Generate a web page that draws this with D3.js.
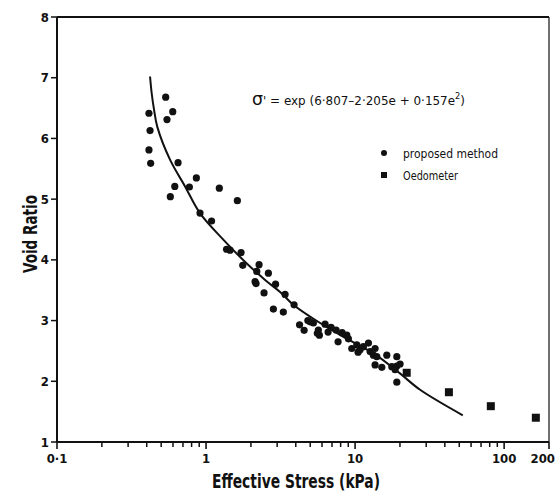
<!DOCTYPE html>
<html>
<head>
<meta charset="utf-8">
<script src="https://cdn.jsdelivr.net/npm/d3@7"></script>
<style>
  body { margin: 0; background: #fff; }
  svg text { font-family: "Liberation Sans Narrow", "DejaVu Sans Condensed", "Liberation Sans", sans-serif; fill: #111; }
  .tick-label { font-size: 13px; font-weight: bold; }
  .title { font-size: 20px; font-weight: bold; }
  .note { font-size: 13px; }
</style>
</head>
<body>
<script>
// proposed method (effective stress kPa, void ratio)
var propStress = [0.536, 0.414, 0.598, 0.547, 0.421, 0.414, 0.425, 0.649, 0.861, 0.617,
  0.773, 1.228, 0.576, 1.622, 0.911, 1.089, 1.373, 1.449, 1.718, 1.763,
  2.268, 2.19, 2.619, 2.133, 2.166, 2.927, 2.45, 3.39, 3.896, 2.83,
  3.30, 4.82, 4.24, 4.55, 5.25, 5.67, 5.76, 5.58, 6.29, 6.90,
  7.46, 7.69, 8.80, 9.02, 9.50, 10.27, 10.8, 11.37, 12.29, 12.61,
  13.62, 13.27, 13.99, 16.32, 19.05, 13.62, 15.11, 17.63, 19.05, 20.04,
  18.56, 19.05, 10.47, 8.18, 6.59, 4.99];
var propVoid = [6.68, 6.415, 6.44, 6.31, 6.13, 5.81, 5.59, 5.60, 5.35, 5.21,
  5.20, 5.18, 5.04, 4.975, 4.77, 4.64, 4.175, 4.16, 4.12, 3.91,
  3.92, 3.81, 3.78, 3.64, 3.61, 3.60, 3.455, 3.43, 3.26, 3.19,
  3.14, 3.00, 2.93, 2.84, 2.96, 2.845, 2.76, 2.79, 2.94, 2.89,
  2.845, 2.65, 2.76, 2.70, 2.54, 2.60, 2.52, 2.57, 2.63, 2.49,
  2.54, 2.43, 2.405, 2.43, 2.405, 2.27, 2.23, 2.24, 2.25, 2.285,
  2.19, 1.985, 2.48, 2.80, 2.81, 2.98];

// oedometer
var oedoStress = [22.2, 42.6, 81.4, 163.2];
var oedoVoid = [2.14, 1.82, 1.59, 1.40];

// fitted curve
var curveStress = [0.421, 0.432, 0.448, 0.471, 0.573, 0.723, 0.91, 1.31, 1.876, 2.49,
  3.14, 3.85, 5.1, 8.35, 13.3, 20.0, 27.3, 52.8];
var curveVoid = [7.02, 6.74, 6.47, 6.19, 5.65, 5.21, 4.77, 4.33, 3.94, 3.67,
  3.47, 3.26, 3.05, 2.73, 2.46, 2.13, 1.86, 1.44];

var xMajor = [0.1, 1, 10, 100, 200];
var xMajorLabels = ["0·1", "1", "10", "100", "200"];
var yTicks = [1, 2, 3, 4, 5, 6, 7, 8];

var width = 556, height = 492;

var x = d3.scaleLog().domain([0.1, 200]).range([57, 549]);
var y = d3.scaleLinear().domain([1, 8]).range([442, 17]);

var svg = d3.select("body").append("svg")
  .attr("width", width)
  .attr("height", height);

//frame top and right
svg.append("line")
  .attr("x1", x(0.1)).attr("x2", x(200))
  .attr("y1", y(8)).attr("y2", y(8))
  .attr("stroke", "#111").attr("stroke-width", 1.8);
svg.append("line")
  .attr("x1", x(200)).attr("x2", x(200))
  .attr("y1", y(8)).attr("y2", y(1))
  .attr("stroke", "#222").attr("stroke-width", 1.3);

//minor ticks on x
var xMinor = [];
[0.1, 1, 10].forEach(function(dec) {
  for (var k = 2; k <= 9; k++) xMinor.push(dec * k);
});

var xAxis = svg.append("g")
  .attr("transform", "translate(0," + y(1) + ")");
xAxis.append("line")
  .attr("x1", x(0.1)).attr("x2", x(200))
  .attr("stroke", "#111").attr("stroke-width", 1.8);
xAxis.selectAll(".minor")
  .data(xMinor)
  .enter().append("line")
  .attr("x1", function(d) { return x(d); })
  .attr("x2", function(d) { return x(d); })
  .attr("y1", 0).attr("y2", 5)
  .attr("stroke", "#111").attr("stroke-width", 1.5);
xAxis.selectAll(".major")
  .data(xMajor)
  .enter().append("line")
  .attr("x1", function(d) { return x(d); })
  .attr("x2", function(d) { return x(d); })
  .attr("y1", 0).attr("y2", 7)
  .attr("stroke", "#111").attr("stroke-width", 1.6);
xAxis.selectAll(".lab")
  .data(xMajor)
  .enter().append("text")
  .attr("class", "tick-label")
  .attr("x", function(d, i) { return i === xMajor.length - 1 ? 555 : x(d); })
  .attr("y", 21)
  .attr("text-anchor", function(d, i) { return i === xMajor.length - 1 ? "end" : "middle"; })
  .text(function(d, i) { return xMajorLabels[i]; });

//y axis
var yAxis = svg.append("g")
  .attr("transform", "translate(" + x(0.1) + ",0)");
yAxis.append("line")
  .attr("y1", y(1)).attr("y2", y(8))
  .attr("stroke", "#111").attr("stroke-width", 2);
yAxis.selectAll(".t")
  .data(yTicks)
  .enter().append("line")
  .attr("x1", -6).attr("x2", 0)
  .attr("y1", function(d) { return y(d); })
  .attr("y2", function(d) { return y(d); })
  .attr("stroke", "#111").attr("stroke-width", 1.5);
yAxis.selectAll(".lab")
  .data(yTicks)
  .enter().append("text")
  .attr("class", "tick-label")
  .attr("x", -8)
  .attr("y", function(d) { return y(d); })
  .attr("dy", "0.35em")
  .attr("text-anchor", "end")
  .text(function(d) { return d; });

//axis titles
svg.append("text")
  .attr("class", "title")
  .attr("x", 296).attr("y", 488)
  .attr("text-anchor", "middle")
  .attr("textLength", 168)
  .attr("lengthAdjust", "spacingAndGlyphs")
  .text("Effective Stress (kPa)");
svg.append("text")
  .attr("class", "title")
  .attr("transform", "translate(37,234) rotate(-90)")
  .attr("text-anchor", "middle")
  .attr("textLength", 78)
  .attr("lengthAdjust", "spacingAndGlyphs")
  .text("Void Ratio");

//fitted curve
var curvePts = curveStress.map(function(s, i) { return [s, curveVoid[i]]; });
var fitLine = d3.line()
  .x(function(d) { return x(d[0]); })
  .y(function(d) { return y(d[1]); })
  .curve(d3.curveCatmullRom.alpha(0.5));
svg.append("path")
  .datum(curvePts)
  .attr("d", fitLine)
  .attr("fill", "none")
  .attr("stroke", "#111")
  .attr("stroke-width", 2);

//points
svg.selectAll(".prop")
  .data(propStress)
  .enter().append("circle")
  .attr("cx", function(d) { return x(d); })
  .attr("cy", function(d, i) { return y(propVoid[i]); })
  .attr("r", 3.6)
  .attr("fill", "#111");

svg.selectAll(".oedo")
  .data(oedoStress)
  .enter().append("rect")
  .attr("x", function(d) { return x(d) - 4; })
  .attr("y", function(d, i) { return y(oedoVoid[i]) - 4; })
  .attr("width", 8).attr("height", 8)
  .attr("fill", "#111");

//equation
var eq = svg.append("text")
  .attr("class", "note")
  .attr("x", 252).attr("y", 105)
  .attr("textLength", 213)
  .attr("lengthAdjust", "spacingAndGlyphs");
eq.append("tspan").style("font-size", "17px").style("font-family", "DejaVu Sans").text("σ");
eq.append("tspan").text("' = exp (6·807–2·205e + 0·157e");
eq.append("tspan").attr("dy", -6).style("font-size", "9px").text("2");
eq.append("tspan").attr("dy", 6).text(")");

//legend
svg.append("circle").attr("cx", 384).attr("cy", 153).attr("r", 3).attr("fill", "#111");
svg.append("text").attr("class", "note")
  .attr("x", 403).attr("y", 153).attr("dy", "0.35em")
  .attr("textLength", 95).attr("lengthAdjust", "spacingAndGlyphs")
  .text("proposed  method");
svg.append("rect").attr("x", 381).attr("y", 172).attr("width", 6).attr("height", 6).attr("fill", "#111");
svg.append("text").attr("class", "note")
  .attr("x", 403).attr("y", 175).attr("dy", "0.35em")
  .attr("textLength", 55).attr("lengthAdjust", "spacingAndGlyphs")
  .text("Oedometer");
</script>
</body>
</html>
